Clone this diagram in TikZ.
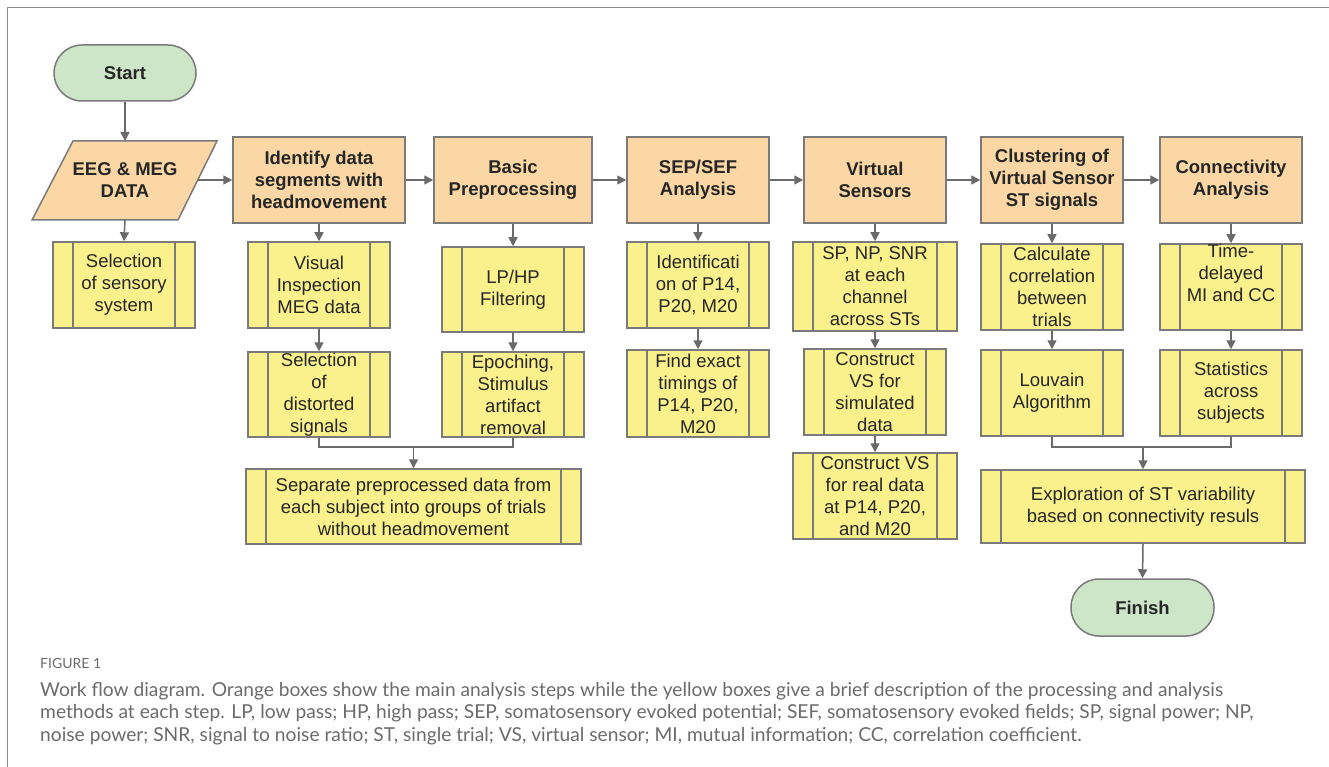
\documentclass[tikz,border=0pt]{standalone}
\usepackage{fontspec}
\setmainfont{Liberation Sans}
\newfontfamily\capfont{Lato}
\usetikzlibrary{arrows.meta}
\definecolor{bordercol}{HTML}{7A7A7A}
\definecolor{arrowcol}{HTML}{6A6A6A}
\definecolor{orangefill}{HTML}{FAD7A4}
\definecolor{yellowfill}{HTML}{FAF08C}
\definecolor{greenfill}{HTML}{CDE6C8}
\definecolor{framecol}{HTML}{8C8C8C}
\definecolor{capcol}{HTML}{6B6B6B}
\definecolor{textcol}{HTML}{262626}
\newcommand{\boxfont}{\fontsize{18.5}{22}\selectfont}
\newcommand{\capfs}{\capfont\fontsize{19.2}{22.5}\selectfont}
\tikzset{
  base/.style={draw=bordercol, line width=1.5pt, align=center, inner sep=0pt, text=textcol, font=\boxfont},
  mainstep/.style={base, fill=orangefill, font=\boxfont\bfseries},
  terminal/.style={base, fill=greenfill, font=\boxfont\bfseries, rounded corners=28pt},
  proc/.style={base, fill=yellowfill,
    path picture={\draw[bordercol, line width=1.5pt]
      ([xshift=20pt]path picture bounding box.south west) -- ([xshift=20pt]path picture bounding box.north west)
      ([xshift=-20pt]path picture bounding box.south east) -- ([xshift=-20pt]path picture bounding box.north east);}},
  wh/.style n args={2}{minimum width=#1pt, minimum height=#2pt},
  arr/.style={draw=arrowcol, line width=1.5pt, -{Triangle[length=9pt,width=9pt]}},
  ln/.style={draw=arrowcol, line width=1.5pt},
  captext/.style={anchor=base west, inner sep=0pt, text=capcol, font=\capfs}
}
\begin{document}
\begin{tikzpicture}[x=1pt,y=-1pt]
\useasboundingbox (0,0) rectangle (1329,767);
\draw[framecol, line width=1.5pt] (7.5,767) -- (7.5,7.5) -- (1329,7.5);

% terminals
\node[terminal, wh={142}{56}] (start) at (125,73) {Start};
\node[terminal, wh={143}{57}] (finish) at (1142.5,607.5) {Finish};

% EEG parallelogram
\filldraw[draw=bordercol, fill=orangefill, line width=1.5pt] (32,220) -- (73,141) -- (217,141) -- (178,220) -- cycle;
\node[align=center, inner sep=0pt, text=textcol, font=\boxfont\bfseries] (eeg) at (125,180) {EEG \& MEG\\DATA};
\coordinate (eegN) at (125,141);
\coordinate (eegE) at (197.5,180);
\coordinate (eegS) at (125,220);

% main steps
\node[mainstep, wh={172}{86}] (ident) at (319,180) {Identify data\\segments with\\headmovement};
\node[mainstep, wh={158}{86}] (basic) at (513,180) {Basic\\Preprocessing};
\node[mainstep, wh={142}{86}] (sep) at (698,180) {SEP/SEF\\Analysis};
\node[mainstep, wh={142}{86}] (vsens) at (875,180) {Virtual\\Sensors};
\node[mainstep, wh={142}{86}] (clus) at (1052,180) {Clustering of\\Virtual Sensor\\ST signals};
\node[mainstep, wh={142}{86}] (conn) at (1231,180) {Connectivity\\Analysis};

% row 1
\node[proc, wh={142}{86}] (selsens) at (124,285) {Selection\\of sensory\\system};
\node[proc, wh={142}{86}] (visual) at (319,285) {Visual\\Inspection\\MEG data};
\node[proc, wh={142}{85}] (lphp) at (513,289.5) {LP/HP\\Filtering};
\node[proc, wh={142}{86}] (identif) at (698,285) {Identificati\\on of P14,\\P20, M20};
\node[proc, wh={164}{89}] (snr) at (875,286.5) {SP, NP, SNR\\at each\\channel\\across STs};
\node[proc, wh={142}{86}] (calc) at (1052,287) {Calculate\\correlation\\between\\trials};
\node[proc, wh={142}{86}] (time) at (1231,287) {Time-\\delayed\\MI and CC\\\strut};

% row 2
\node[proc, wh={142}{85}] (dist) at (319,394.5) {Selection\\of\\distorted\\signals};
\node[proc, wh={142}{85}] (epoch) at (513,394.5) {Epoching,\\Stimulus\\artifact\\removal};
\node[proc, wh={142}{87}] (find) at (698,393.5) {Find exact\\timings of\\P14, P20,\\M20};
\node[proc, wh={142}{86}] (cvsa) at (875,392) {Construct\\VS for\\simulated\\data};
\node[proc, wh={142}{86}] (louv) at (1052,393) {Louvain\\Algorithm};
\node[proc, wh={142}{86}] (stats) at (1231,393) {Statistics\\across\\subjects};

% row 3
\node[proc, wh={335}{75}] (sepd) at (413.5,506.5) {Separate preprocessed data from\\each subject into groups of trials\\without headmovement};
\node[proc, wh={164}{86}] (cvsb) at (875,496) {Construct VS\\for real data\\at P14, P20,\\and M20};
\node[proc, wh={324}{73}] (expl) at (1143,506.5) {Exploration of ST variability\\based on connectivity resuls};

% connectors
\draw[arr] (start.south) -- (eegN);
\draw[arr] (eegE) -- (ident.west);
\draw[arr] (ident.east) -- (basic.west);
\draw[arr] (basic.east) -- (sep.west);
\draw[arr] (sep.east) -- (vsens.west);
\draw[arr] (vsens.east) -- (clus.west);
\draw[arr] (clus.east) -- (conn.west);

\draw[arr] (eegS) -- (selsens.north);
\draw[arr] (ident.south) -- (visual.north);
\draw[arr] (visual.south) -- (dist.north);
\draw[arr] (basic.south) -- (lphp.north);
\draw[arr] (lphp.south) -- (epoch.north);
\draw[arr] (sep.south) -- (identif.north);
\draw[arr] (identif.south) -- (find.north);
\draw[arr] (vsens.south) -- (snr.north);
\draw[arr] (snr.south) -- (cvsa.north);
\draw[arr] (cvsa.south) -- (cvsb.north);
\draw[arr] (clus.south) -- (calc.north);
\draw[arr] (calc.south) -- (louv.north);
\draw[arr] (conn.south) -- (time.north);
\draw[arr] (time.south) -- (stats.north);

\coordinate (mergeL) at (413.5,447);
\draw[ln] (dist.south) |- (mergeL);
\draw[ln] (epoch.south) |- (mergeL);
\draw[arr] (mergeL) -- (sepd.north);

\coordinate (mergeR) at (1143,447);
\draw[ln] (louv.south) |- (mergeR);
\draw[ln] (stats.south) |- (mergeR);
\draw[arr] (mergeR) -- (expl.north);
\draw[arr] (expl.south) -- (finish.north);

% caption
\node[captext, font=\capfont\fontsize{14}{16}\selectfont] (fig) at (40,668) {FIGURE 1};
\node[captext] (cap1) at (40,696) {Work flow diagram. Orange boxes show the main analysis steps while the yellow boxes give a brief description of the processing and analysis};
\node[captext] (cap2) at (40,718.5) {methods at each step. LP, low pass; HP, high pass; SEP, somatosensory evoked potential; SEF, somatosensory evoked fields; SP, signal power; NP,};
\node[captext] (cap3) at (40,741) {noise power; SNR, signal to noise ratio; ST, single trial; VS, virtual sensor; MI, mutual information; CC, correlation coefficient.};
\end{tikzpicture}
\end{document}
